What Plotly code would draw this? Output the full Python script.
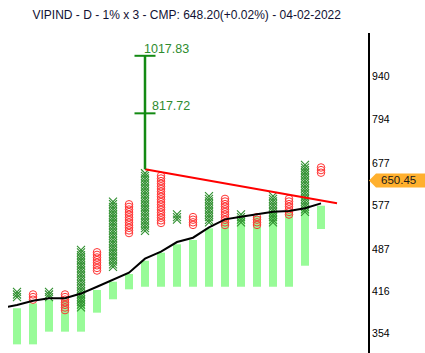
import math
import plotly.graph_objects as go

TITLE = "VIPIND - D - 1% x 3 - CMP: 648.20(+0.02%) - 04-02-2022"
BOX_PCT = 1.0

# Point & figure columns (1..20): type, top box price, number of boxes
col_types = ["X", "O", "X", "O", "X", "O", "X", "O", "X", "O",
             "X", "O", "X", "O", "X", "O", "X", "O", "X", "O"]
col_tops = [414.5, 410.5, 414.5, 410.5, 486.5, 482.0, 584.5, 578.5, 651.0, 644.5,
            556.5, 551.0, 596.5, 590.5, 556.5, 551.0, 596.5, 590.5, 672.0, 665.5]
col_boxes = [3, 3, 3, 7, 23, 8, 26, 12, 23, 19,
             3, 4, 11, 11, 4, 4, 11, 7, 19, 3]

# Moving average (columns 0..20)
ma_cols = list(range(0, 21))
ma_values = [390.0, 394.3, 400.8, 404.5, 404.5, 411.9, 422.7, 433.7, 445.9, 470.3,
             483.0, 501.1, 509.4, 530.0, 546.3, 551.8, 557.4, 562.4, 563.9, 569.7, 580.6]

# Floating green bars (columns 1..20)
bar_tops = [389.5, 396.9, 401.9, 402.5, 409.0, 417.5, 430.9, 443.7, 466.7, 481.2,
            496.8, 505.0, 528.0, 542.9, 549.1, 553.3, 559.6, 559.6, 566.1, 575.4]
bar_bottoms = [339.5, 339.5, 356.3, 356.3, 356.3, 383.0, 403.0, 418.6, 422.7, 422.7,
               422.7, 422.7, 422.7, 422.7, 422.7, 422.7, 422.7, 422.7, 457.9, 526.6]

# Trend line
trend_cols = [9, 21]
trend_values = [660.8, 580.6]

# Vertical count target
target_col = 9
target_base = 660.8
target_levels = [817.72, 1017.83]
target_labels = ["817.72", "1017.83"]

tick_values = [354, 416, 487, 577, 677, 799, 940]
tick_labels = ["354", "416", "487", "577", "677", "794", "940"]

last_price = 650.45
last_label = "650.45"

# ---- layout constants ----
Y_LO, Y_HI = 2.51655, 3.04535
X_LO, X_HI = 0.4375, 22.9375
PLOT_W, PLOT_H = 360, 320
LOG_PER_PX = (Y_HI - Y_LO) / PLOT_H

ratio = 1 + BOX_PCT / 100.0
x_cols, x_prices, o_cols, o_prices = [], [], [], []
for i, (t, top, n) in enumerate(zip(col_types, col_tops, col_boxes), start=1):
    for k in range(n):
        p = top / ratio ** k
        if t == "X":
            x_cols.append(i)
            x_prices.append(p)
        else:
            o_cols.append(i)
            o_prices.append(p)

cols = list(range(1, 21))
fig = go.Figure()

fig.add_trace(go.Bar(
    x=cols, base=bar_bottoms, y=[t - b for t, b in zip(bar_tops, bar_bottoms)],
    width=0.5, marker=dict(color="#98FB98", line=dict(width=0)),
))

fig.add_trace(go.Scatter(
    x=x_cols, y=x_prices, mode="markers",
    marker=dict(symbol="x-thin-open", size=8, color="#2F8F2F",
                line=dict(color="#2F8F2F", width=1.1)),
))
fig.add_trace(go.Scatter(
    x=o_cols, y=o_prices, mode="markers",
    marker=dict(symbol="circle-open", size=7.5, color="#FF3535",
                line=dict(color="#FF3535", width=1)),
))

fig.add_trace(go.Scatter(
    x=ma_cols, y=ma_values, mode="lines", line=dict(color="#000000", width=2),
))
fig.add_trace(go.Scatter(
    x=trend_cols, y=trend_values, mode="lines", line=dict(color="#FF0000", width=2),
))

fig.add_trace(go.Scatter(
    x=[target_col, target_col], y=[target_base, max(target_levels)], mode="lines",
    line=dict(color="#138A13", width=2.5),
))
fig.add_trace(go.Scatter(
    x=[target_col] * len(target_levels), y=target_levels, mode="markers",
    marker=dict(symbol="line-ew-open", size=15, color="#138A13",
                line=dict(color="#138A13", width=2)),
))

fig.add_annotation(x=target_col, y=math.log10(target_levels[1]), text=target_labels[1],
                   xanchor="left", yanchor="bottom", xshift=-3, yshift=-2, showarrow=False,
                   font=dict(family="Arial", size=12.5, color="#2E8B2E"))
fig.add_annotation(x=target_col, y=math.log10(target_levels[0]), text=target_labels[0],
                   xanchor="left", yanchor="bottom", xshift=5, yshift=-2, showarrow=False,
                   font=dict(family="Arial", size=12.5, color="#2E8B2E"))

# last price tag on a hidden linear axis in log10 units
yc = math.log10(last_price)
half = 7 * LOG_PER_PX
ymid = yc - half
x_tip = 1 + 1 / PLOT_W
x_base = 1 + 8 / PLOT_W
x_end = 1 + 70 / PLOT_W
path = (f"M {x_tip} {ymid} L {x_base} {yc} L {x_end} {yc} "
        f"L {x_end} {yc - 2 * half} L {x_base} {yc - 2 * half} Z")
fig.add_shape(type="path", path=path, xref="paper", yref="y2",
              fillcolor="#FFB02E", line=dict(width=0), layer="above")
fig.add_annotation(x=1 + 30.4 / PLOT_W, xref="paper", y=ymid, yref="y2", text=last_label,
                   xanchor="center", yanchor="middle", showarrow=False,
                   font=dict(family="Arial", size=11.5, color="#1A1A1A"))

fig.update_layout(
    width=425, height=353,
    margin=dict(l=8, r=57, t=33, b=0),
    paper_bgcolor="white", plot_bgcolor="white",
    showlegend=False, barmode="overlay",
    title=dict(text=TITLE, x=186.7 / 425, xref="container", xanchor="center",
               y=1 - 14.3 / 353, yanchor="middle",
               font=dict(family="Arial", size=12, color="#111133")),
    xaxis=dict(range=[X_LO, X_HI], visible=False),
    yaxis=dict(type="log", range=[Y_LO, Y_HI], side="right",
               tickvals=tick_values, ticktext=tick_labels,
               showgrid=False, zeroline=False, showline=True,
               linecolor="#000000", linewidth=2, ticks="",
               tickfont=dict(family="Arial", size=10.5, color="#000000")),
    yaxis2=dict(type="linear", range=[Y_LO, Y_HI], overlaying="y", side="right",
                visible=False),
)

fig.write_html("out.html")
